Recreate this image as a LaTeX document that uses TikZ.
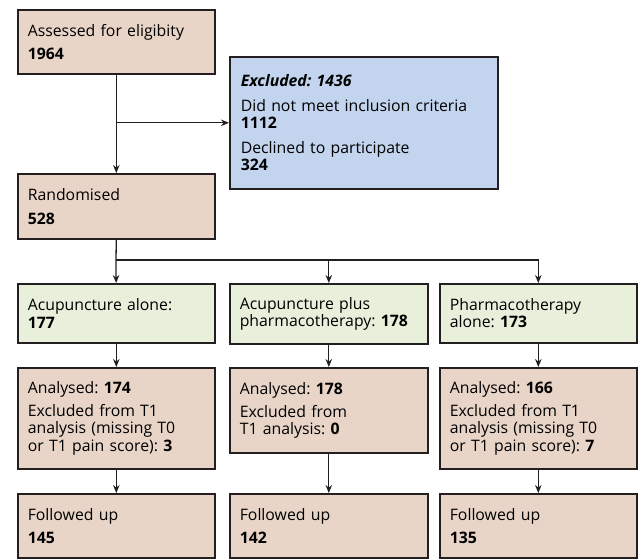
\documentclass[tikz,border=0pt]{standalone}
\usepackage{fontspec}
\setmainfont{Open Sans}
\usetikzlibrary{arrows.meta}

\definecolor{tanbox}{HTML}{E8D5C8}
\definecolor{bluebox}{HTML}{C2D4EE}
\definecolor{greenbox}{HTML}{E8F0DC}
\definecolor{edgeline}{HTML}{231F20}

\tikzset{
  box/.style={draw=edgeline, line width=1.6pt, rectangle, anchor=north west,
    align=left, inner sep=0pt, font=\fontsize{15.8}{17.5}\selectfont},
  arr/.style={draw=edgeline, line width=1.3pt, -{Stealth[length=8pt,width=6.5pt]}}
}

\begin{document}
\frenchspacing
\begin{tikzpicture}[x=1pt,y=-1pt]

      \useasboundingbox (0,0) rectangle (644,558);

      \begin{scope}[every node/.style={box}]
        % top of the chart
        \node[fill=tanbox, minimum width=197, minimum height=64, text width=177] (assess) at (17,9)
          {Assessed for eligibity\\[5.5pt]\textbf{1964}};
        \node[fill=bluebox, minimum width=268, minimum height=132, text width=246] (excl) at (229,56)
          {\textbf{\textit{Excluded: 1436}}\\[7pt]Did not meet inclusion criteria\\\textbf{1112}\\[7pt]Declined to participate\\\textbf{324}};
        \node[fill=tanbox, minimum width=197, minimum height=65, text width=177] (rand) at (17,173)
          {Randomised\\[6.5pt]\textbf{528}};

        % groups
        \node[fill=greenbox, minimum width=197, minimum height=59, text width=177] (acu) at (17,283)
          {Acupuncture alone:\\\textbf{177}};
        \node[fill=greenbox, minimum width=198, minimum height=60, text width=178] (acupharm) at (229,283)
          {Acupuncture plus\\pharmacotherapy: \textbf{178}};
        \node[fill=greenbox, minimum width=197, minimum height=59, text width=177] (pharm) at (439,283)
          {Pharmacotherapy\\alone: \textbf{173}};

        % analysed
        \node[fill=tanbox, minimum width=197, minimum height=101, text width=177] (anA) at (17,367)
          {Analysed: \textbf{174}\\[5.5pt]Excluded from T1\\analysis (missing T0\\or T1 pain score): \textbf{3}};
        \node[fill=tanbox, minimum width=198, minimum height=85, text width=178] (anB) at (229,367)
          {Analysed: \textbf{178}\\[5.5pt]Excluded from\\T1 analysis: \textbf{0}};
        \node[fill=tanbox, minimum width=197, minimum height=101, text width=177] (anC) at (439,367)
          {Analysed: \textbf{166}\\[5.5pt]Excluded from T1\\analysis (missing T0\\or T1 pain score): \textbf{7}};

        % followed up
        \node[fill=tanbox, minimum width=197, minimum height=64, text width=177] (fuA) at (17,493)
          {Followed up\\[5.5pt]\textbf{145}};
        \node[fill=tanbox, minimum width=198, minimum height=64, text width=178] (fuB) at (229,493)
          {Followed up\\[5.5pt]\textbf{142}};
        \node[fill=tanbox, minimum width=197, minimum height=64, text width=177] (fuC) at (439,493)
          {Followed up\\[5.5pt]\textbf{135}};
      \end{scope}

      \coordinate (split) at (116,260);

      \path[arr] (assess) -- (rand);
      \path[arr] (assess.south |- excl.west) -- (excl.west);
      \path[draw=edgeline, line width=1.3pt] (rand.south) -- (split);
      \path[arr] (split) -- (acu);
      \path[arr] (split) -| (acupharm);
      \path[arr] (split) -| (pharm);
      \path[arr] (acu) -- (anA);
      \path[arr] (acupharm) -- (anB);
      \path[arr] (pharm) -- (anC);
      \path[arr] (anA) -- (fuA);
      \path[arr] (anB) -- (fuB);
      \path[arr] (anC) -- (fuC);

    \end{tikzpicture}
\end{document}
